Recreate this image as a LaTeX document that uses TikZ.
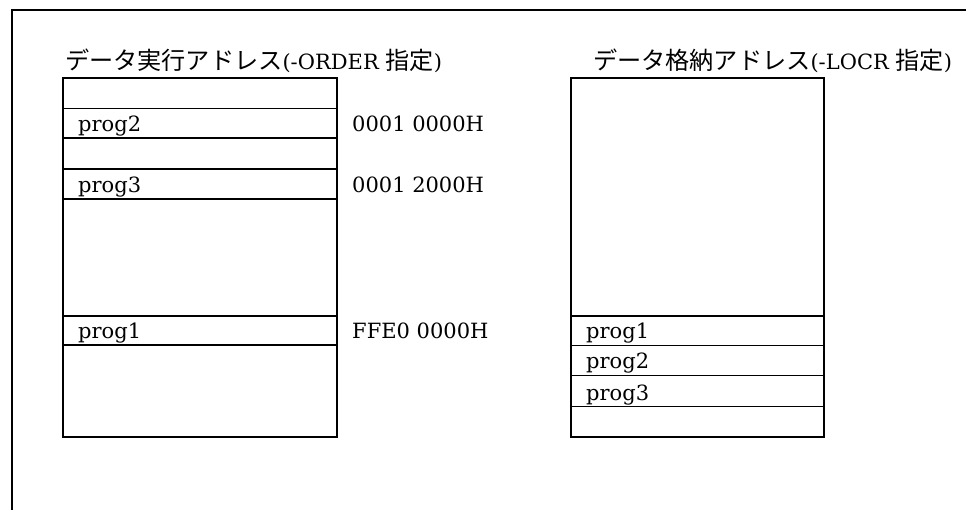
\documentclass[tikz,border=0pt]{standalone}
\usepackage{fontspec}
\setmainfont{DejaVu Serif}
\newfontfamily\jp[Scale=1.15]{Noto Sans CJK JP}
\usetikzlibrary{positioning,calc}

\begin{document}
\begin{tikzpicture}[
				x=1pt,y=-1pt,
				cell/.style={draw,rectangle,line width=1.6pt,inner sep=0pt,outer sep=0pt,anchor=north west},
				lcell/.style={cell,minimum width=274pt},
				rcell/.style={cell,minimum width=253pt},
				txt/.style={font=\fontsize{21}{25}\selectfont,inner sep=0pt,anchor=base west}
				]
				\useasboundingbox (0,0) rectangle (966,510);
				
				% Cornice
				\draw[line width=1.5pt] (12,510) -- (12,10) -- (966,10);
				
				% Indirizzi di esecuzione
				\node[lcell,minimum height=30.5pt] (l0) at (63,78) {};
				\node[lcell,minimum height=29.5pt,below=0pt of l0] (l1) {};
				\node[lcell,minimum height=31pt,below=0pt of l1] (l2) {};
				\node[lcell,minimum height=30pt,below=0pt of l2] (l3) {};
				\node[lcell,minimum height=117pt,below=0pt of l3] (l4) {};
				\node[lcell,minimum height=29pt,below=0pt of l4] (l5) {};
				\node[lcell,minimum height=92pt,below=0pt of l5] (l6) {};
				
				% Indirizzi di memorizzazione
				\node[rcell,minimum height=238pt] (r0) at (571,78) {};
				\node[rcell,minimum height=29.5pt,below=0pt of r0] (r1) {};
				\node[rcell,minimum height=30pt,below=0pt of r1] (r2) {};
				\node[rcell,minimum height=31pt,below=0pt of r2] (r3) {};
				\node[rcell,minimum height=30.5pt,below=0pt of r3] (r4) {};
				
				% Titoli
				\node[txt] (ltitle) at ($(l0.north west)+(2,-8)$) {{\jp データ実行アドレス}(-ORDER {\jp 指定})};
				\node[txt] (rtitle) at ($(r0.north west)+(22,-8)$) {{\jp データ格納アドレス}(-LOCR {\jp 指定})};
				
				% Programmi
				\node[txt] (lprog2) at ($(l1.south west)+(15,-6.5)$) {prog2};
				\node[txt] (lprog3) at ($(l3.south west)+(15,-6.5)$) {prog3};
				\node[txt] (lprog1) at ($(l5.south west)+(15,-6.5)$) {prog1};
				\node[txt] (rprog1) at ($(r1.south west)+(15,-6.5)$) {prog1};
				\node[txt] (rprog2) at ($(r2.south west)+(15,-6.5)$) {prog2};
				\node[txt] (rprog3) at ($(r3.south west)+(15,-6.5)$) {prog3};
				
				% Indirizzi
				\node[txt] (addr2) at ($(l1.south east)+(15,-6.5)$) {0001 0000H};
				\node[txt] (addr3) at ($(l3.south east)+(15,-6.5)$) {0001 2000H};
				\node[txt] (addr1) at ($(l5.south east)+(15,-6.5)$) {FFE0 0000H};
				
\end{tikzpicture}
\end{document}
